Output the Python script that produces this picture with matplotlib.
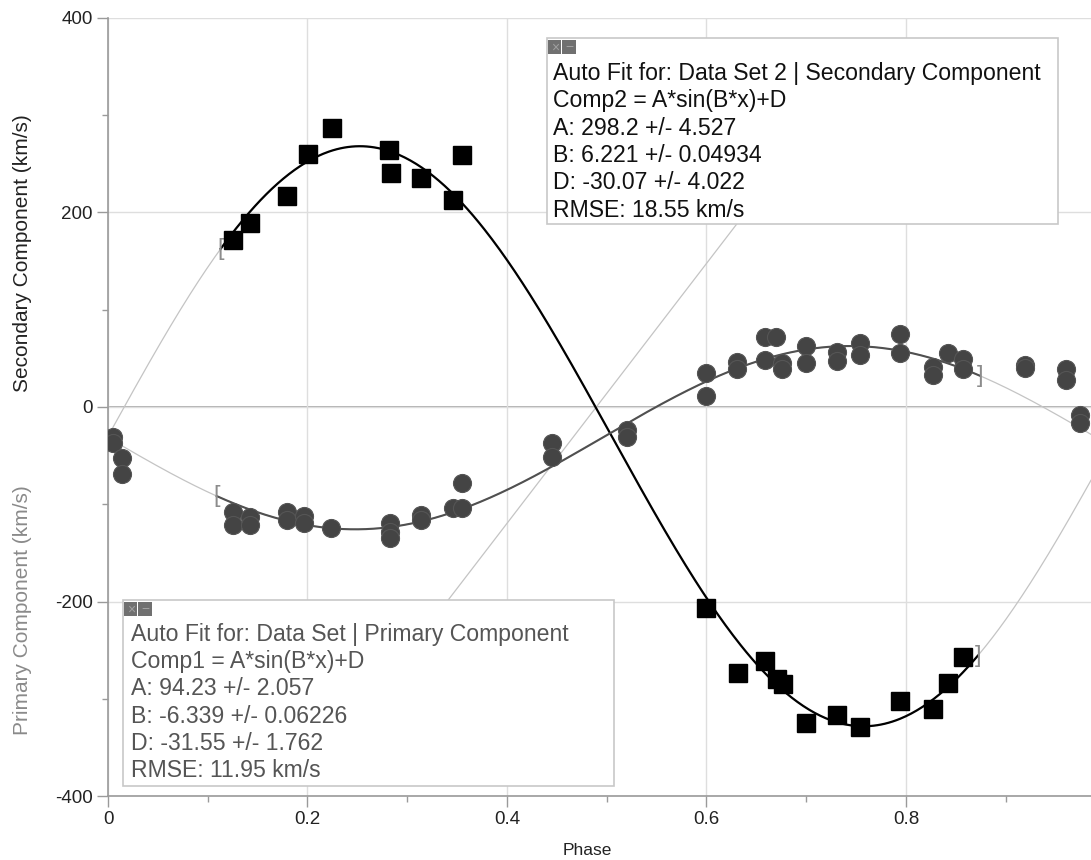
import numpy as np
import matplotlib
matplotlib.use("Agg")
import matplotlib.pyplot as plt
from matplotlib.patches import Rectangle
from matplotlib.ticker import MultipleLocator, FuncFormatter

plt.rcParams['font.family'] = ['Liberation Sans', 'DejaVu Sans']
plt.rcParams['axes.unicode_minus'] = False

# ── Radial velocity measurements ─────────────────────────────────────────────

# secondary component (squares)
sec_phase = [0.1256, 0.1424, 0.1798, 0.2005, 0.2243, 0.2820, 0.2834, 0.3135, 0.3456, 0.3546,
             0.5995, 0.6319, 0.6587, 0.6704, 0.6764, 0.6998, 0.7305, 0.7539, 0.7940, 0.8268,
             0.8424, 0.8575]
sec_vel   = [171.7, 189.5, 216.5, 259.8, 287.3, 263.8, 240.1, 235.7, 212.7, 259.5,
             -207.0, -273.2, -261.2, -280.0, -284.8, -325.3, -316.7, -328.7, -302.3, -310.9,
             -283.5, -256.7]

# primary component (circles)
pri_phase = [0.0053, 0.0053, 0.0137, 0.0137, 0.1256, 0.1256, 0.1424, 0.1424, 0.1798, 0.1798,
             0.1965, 0.1965, 0.2236, 0.2827, 0.2827, 0.2827, 0.3135, 0.3135, 0.3462, 0.3546,
             0.3546, 0.4448, 0.4448, 0.5206, 0.5206, 0.5995, 0.5995, 0.6309, 0.6309, 0.6587,
             0.6697, 0.6587, 0.6754, 0.6754, 0.6998, 0.6998, 0.7305, 0.7305, 0.7539, 0.7539,
             0.7940, 0.7940, 0.8274, 0.8274, 0.8424, 0.8575, 0.8575, 0.9193, 0.9193, 0.9604,
             0.9604, 0.9744, 0.9744]
pri_vel   = [-30.5, -37.0, -52.8, -68.9, -107.6, -121.3, -112.8, -121.3, -107.6, -116.2,
             -112.1, -119.6, -124.7, -119.6, -128.2, -135.0, -111.0, -116.2, -104.2, -104.2,
             -77.8, -36.7, -51.1, -23.7, -30.5, 34.6, 11.3, 46.6, 38.8, 72.3,
             72.3, 48.3, 45.6, 38.8, 62.7, 45.6, 56.9, 47.6, 65.5, 53.5,
             75.1, 55.8, 40.8, 32.9, 55.8, 49.0, 38.8, 43.2, 40.5, 38.8,
             27.8, -8.2, -16.8]

# fit results  y = A*sin(B*x)+D
sec_fit = dict(A=298.2, B=6.221, D=-30.07)
pri_fit = dict(A=94.23, B=-6.339, D=-31.55)
sec_range = (0.113, 0.872)
pri_range = (0.109, 0.874)

sec_text = ["Auto Fit for: Data Set 2 | Secondary Component",
            "Comp2 = A*sin(B*x)+D",
            "A: 298.2 +/- 4.527",
            "B: 6.221 +/- 0.04934",
            "D: -30.07 +/- 4.022",
            "RMSE: 18.55 km/s"]
pri_text = ["Auto Fit for: Data Set | Primary Component",
            "Comp1 = A*sin(B*x)+D",
            "A: 94.23 +/- 2.057",
            "B: -6.339 +/- 0.06226",
            "D: -31.55 +/- 1.762",
            "RMSE: 11.95 km/s"]

XMAX = 0.9855


def sine(x, p):
    return p["A"] * np.sin(p["B"] * x) + p["D"]


fig = plt.figure(figsize=(10.91, 8.6), dpi=100)
ax = fig.add_axes([0.099, 0.0744, 0.901, 0.9047])
ax.set_xlim(0, XMAX)
ax.set_ylim(-400, 400)

for s in ("top", "right"):
    ax.spines[s].set_visible(False)
for s in ("left", "bottom"):
    ax.spines[s].set_color("#9a9a9a")
    ax.spines[s].set_linewidth(1.2)

ax.xaxis.set_major_locator(MultipleLocator(0.2))
ax.xaxis.set_minor_locator(MultipleLocator(0.1))
ax.yaxis.set_major_locator(MultipleLocator(200))
ax.yaxis.set_minor_locator(MultipleLocator(100))
ax.xaxis.set_major_formatter(FuncFormatter(lambda v, _: f"{v:g}"))
ax.yaxis.set_major_formatter(FuncFormatter(lambda v, _: f"{v:g}"))
ax.tick_params(which="major", length=8, width=1, color="#9a9a9a", pad=3,
               labelsize=13.5, labelcolor="#222222")
ax.tick_params(which="minor", length=4, width=1, color="#9a9a9a")

ax.grid(True, which="major", color="#dedede", linewidth=1, zorder=0)
ax.axhline(0, color="#a0a0a0", linewidth=1.2, zorder=1)

# fitted curves: solid inside the fit range, thin grey outside
xs = np.linspace(0, XMAX, 600)
for p, (lo, hi), col, lw in [(sec_fit, sec_range, "#000000", 1.6),
                             (pri_fit, pri_range, "#505050", 1.5)]:
    ax.plot(xs, sine(xs, p), color="#c4c4c4", linewidth=0.9, zorder=2)
    xin = np.linspace(lo, hi, 400)
    ax.plot(xin, sine(xin, p), color=col, linewidth=lw, zorder=3)
    ax.text(lo, sine(lo, p), "[", color="#8c8c8c", fontsize=17, ha="center",
            va="center", zorder=3)
    ax.text(hi, sine(hi, p), "]", color="#8c8c8c", fontsize=17, ha="center",
            va="center", zorder=3)

# leader line between the two fit boxes
ax.plot([0.341, 0.631], [-198.5, 189], color="#c4c4c4", linewidth=0.9, zorder=2)

ax.plot(pri_phase, pri_vel, "o", color="#444444", markersize=13,
        markeredgecolor="#555555", markeredgewidth=0.8, zorder=6)
ax.plot(sec_phase, sec_vel, "s", color="#000000", markersize=13, zorder=7)

# fit boxes
def fit_box(x0, y0, x1, y1, lines, tx, ty0, color):
    ax.add_patch(Rectangle((x0, y0), x1 - x0, y1 - y0, transform=ax.transAxes,
                           facecolor="white", edgecolor="#c8c8c8", linewidth=1.2,
                           zorder=4))
    iw, ih = 0.0145, 0.0180
    for k, glyph in enumerate(["\u00d7", "\u2212"]):
        ix = x0 + 0.001 + k * iw
        ax.add_patch(Rectangle((ix, y1 - 0.003 - ih), iw - 0.001, ih,
                               transform=ax.transAxes, facecolor="#707070",
                               edgecolor="none", zorder=5))
        ax.text(ix + iw / 2, y1 - 0.003 - ih / 2, glyph, transform=ax.transAxes,
                color="#a0a0a0", fontsize=10, ha="center", va="center", zorder=5)
    for k, line in enumerate(lines):
        ax.text(tx, ty0 - k * 0.0351, line, transform=ax.transAxes, color=color,
                fontsize=16.6, ha="left", va="baseline", zorder=5)


fit_box(0.4466, 0.7352, 0.9664, 0.9743, sec_text, 0.453, 0.9203, "#111111")
fit_box(0.0153, 0.0129, 0.5148, 0.2519, pri_text, 0.0231, 0.1996, "#555555")

fig.text(0.538, 0.006, "Phase", fontsize=12.5, color="#222222", ha="center",
         va="baseline")
fig.text(0.0202, 0.706, "Secondary Component (km/s)", rotation=90, fontsize=15,
         color="#222222", ha="center", va="center")
fig.text(0.0202, 0.291, "Primary Component (km/s)", rotation=90, fontsize=15,
         color="#8a8a8a", ha="center", va="center")

fig.savefig("out.png", dpi=100)
